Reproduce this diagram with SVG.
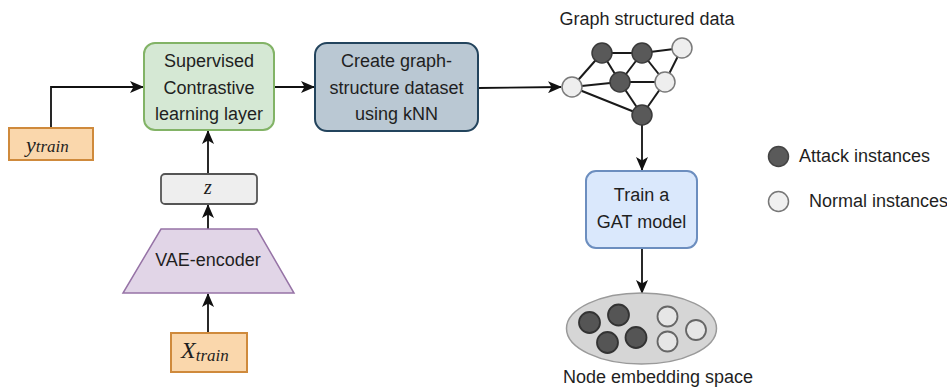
<svg xmlns="http://www.w3.org/2000/svg" width="947" height="388" viewBox="0 0 947 388">
<style>
.t{font-family:"Liberation Sans",Arial,sans-serif;font-size:18px;fill:#1f1f1f;text-anchor:middle}
.tl{font-family:"Liberation Sans",Arial,sans-serif;font-size:18px;fill:#1f1f1f}
.m{font-family:"Liberation Serif","Times New Roman",serif;font-style:italic;fill:#1f1f1f}
.c{stroke:#111;stroke-width:1.8;fill:none}
.e{stroke:#1a1a1a;stroke-width:2}
.dk{fill:#595959;stroke:#3a3a3a;stroke-width:1.5}
.lt{fill:#eeeeee;stroke:#7a7a7a;stroke-width:1.5}
</style>
<defs>
<marker id="ah" viewBox="0 0 14 12" refX="13" refY="6" markerWidth="14" markerHeight="12" markerUnits="userSpaceOnUse" orient="auto">
<path d="M0,0 L14,6 L0,12 L3.5,6 Z" fill="#111"/>
</marker>
</defs>
<rect width="947" height="388" fill="#ffffff"/>
<g id="connectors">
<path class="c" d="M51,128 L51,87 L143,87" marker-end="url(#ah)"/>
<path class="c" d="M274,87 L314,87" marker-end="url(#ah)"/>
<path class="c" d="M478,88 L561,87" marker-end="url(#ah)"/>
<path class="c" d="M208,174 L208,131" marker-end="url(#ah)"/>
<path class="c" d="M208,229 L208,205" marker-end="url(#ah)"/>
<path class="c" d="M208,333 L208,294" marker-end="url(#ah)"/>
<path class="c" d="M642,125 L642,170" marker-end="url(#ah)"/>
<path class="c" d="M642,248 L642,293" marker-end="url(#ah)"/>
</g>
<g id="ytrain">
<rect x="9" y="128" width="84" height="32" fill="#fad7ac" stroke="#cf8a3c" stroke-width="2"/>
<text class="m" x="26" y="152" font-size="22">y<tspan font-size="17">train</tspan></text>
</g>
<g id="supervised">
<rect x="144" y="43" width="130" height="87" rx="11" fill="#d5e8d4" stroke="#82b366" stroke-width="2"/>
<text class="t" x="209" y="67">Supervised</text>
<text class="t" x="209" y="93.5">Contrastive</text>
<text class="t" x="209" y="120">learning layer</text>
</g>
<g id="z">
<rect x="161" y="174" width="96" height="30" rx="4" fill="#eeeeee" stroke="#555" stroke-width="1.8"/>
<text class="m" x="208" y="194" font-size="20" text-anchor="middle">z</text>
</g>
<g id="vae">
<polygon points="161,229 257,229 294,293 123,293" fill="#e1d5e7" stroke="#9673a6" stroke-width="1.5"/>
<text class="t" x="208" y="266">VAE-encoder</text>
</g>
<g id="xtrain">
<rect x="171" y="333" width="76" height="39" fill="#fad7ac" stroke="#cf8a3c" stroke-width="2"/>
<text class="m" x="181" y="358" font-size="24">X<tspan font-size="17" dy="3">train</tspan></text>
</g>
<g id="create">
<rect x="315" y="43" width="163" height="88" rx="12" fill="#bac8d3" stroke="#23445d" stroke-width="2"/>
<text class="t" x="396.5" y="67">Create graph-</text>
<text class="t" x="396.5" y="93.5">structure dataset</text>
<text class="t" x="396.5" y="120">using kNN</text>
</g>
<g id="graph">
<text class="t" x="647" y="25">Graph structured data</text>
<line class="e" x1="572" y1="87" x2="602" y2="53"/>
<line class="e" x1="572" y1="87" x2="620" y2="82"/>
<line class="e" x1="572" y1="87" x2="642" y2="115"/>
<line class="e" x1="602" y1="53" x2="642" y2="53"/>
<line class="e" x1="602" y1="53" x2="620" y2="82"/>
<line class="e" x1="642" y1="53" x2="682" y2="48"/>
<line class="e" x1="642" y1="53" x2="620" y2="82"/>
<line class="e" x1="642" y1="53" x2="665" y2="82"/>
<line class="e" x1="620" y1="82" x2="665" y2="82"/>
<line class="e" x1="620" y1="82" x2="642" y2="115"/>
<line class="e" x1="665" y1="82" x2="682" y2="48"/>
<line class="e" x1="665" y1="82" x2="642" y2="115"/>
<circle class="lt" cx="572" cy="87" r="10"/>
<circle class="dk" cx="602" cy="53" r="10"/>
<circle class="dk" cx="642" cy="53" r="10"/>
<circle class="lt" cx="682" cy="48" r="10" fill="#e0e0e0"/>
<circle class="dk" cx="620" cy="82" r="10"/>
<circle class="lt" cx="665" cy="82" r="10"/>
<circle class="dk" cx="642" cy="115" r="10"/>
</g>
<g id="gat">
<rect x="586" y="171" width="111" height="77" rx="10" fill="#dae8fc" stroke="#6c8ebf" stroke-width="2"/>
<text class="t" x="641.5" y="201">Train a</text>
<text class="t" x="641.5" y="228">GAT model</text>
</g>
<g id="embedding">
<ellipse cx="641.5" cy="328.5" rx="75" ry="35.5" fill="#d6d6d6" stroke="#9a9a9a" stroke-width="1.5"/>
<circle cx="589.5" cy="322.5" r="10.5" fill="#555" stroke="#333" stroke-width="1.8"/>
<circle cx="618.5" cy="315" r="10.5" fill="#555" stroke="#333" stroke-width="1.8"/>
<circle cx="607.5" cy="342.5" r="10.5" fill="#555" stroke="#333" stroke-width="1.8"/>
<circle cx="636" cy="337.5" r="10.5" fill="#555" stroke="#333" stroke-width="1.8"/>
<circle cx="667.5" cy="316.5" r="10" fill="#e6e6e6" stroke="#666" stroke-width="1.8"/>
<circle cx="667.5" cy="341.5" r="10" fill="#e6e6e6" stroke="#666" stroke-width="1.8"/>
<circle cx="696" cy="330" r="10" fill="#e6e6e6" stroke="#666" stroke-width="1.8"/>
<text class="t" x="658" y="383">Node embedding space</text>
</g>
<g id="legend">
<circle cx="778.5" cy="156.5" r="10" fill="#5a5a5a" stroke="#444" stroke-width="1.5"/>
<text class="tl" x="799" y="162">Attack instances</text>
<circle cx="778.5" cy="201.5" r="10" fill="#f0f0f0" stroke="#777" stroke-width="1.5"/>
<text class="tl" x="809" y="207">Normal instances</text>
</g>
</svg>
